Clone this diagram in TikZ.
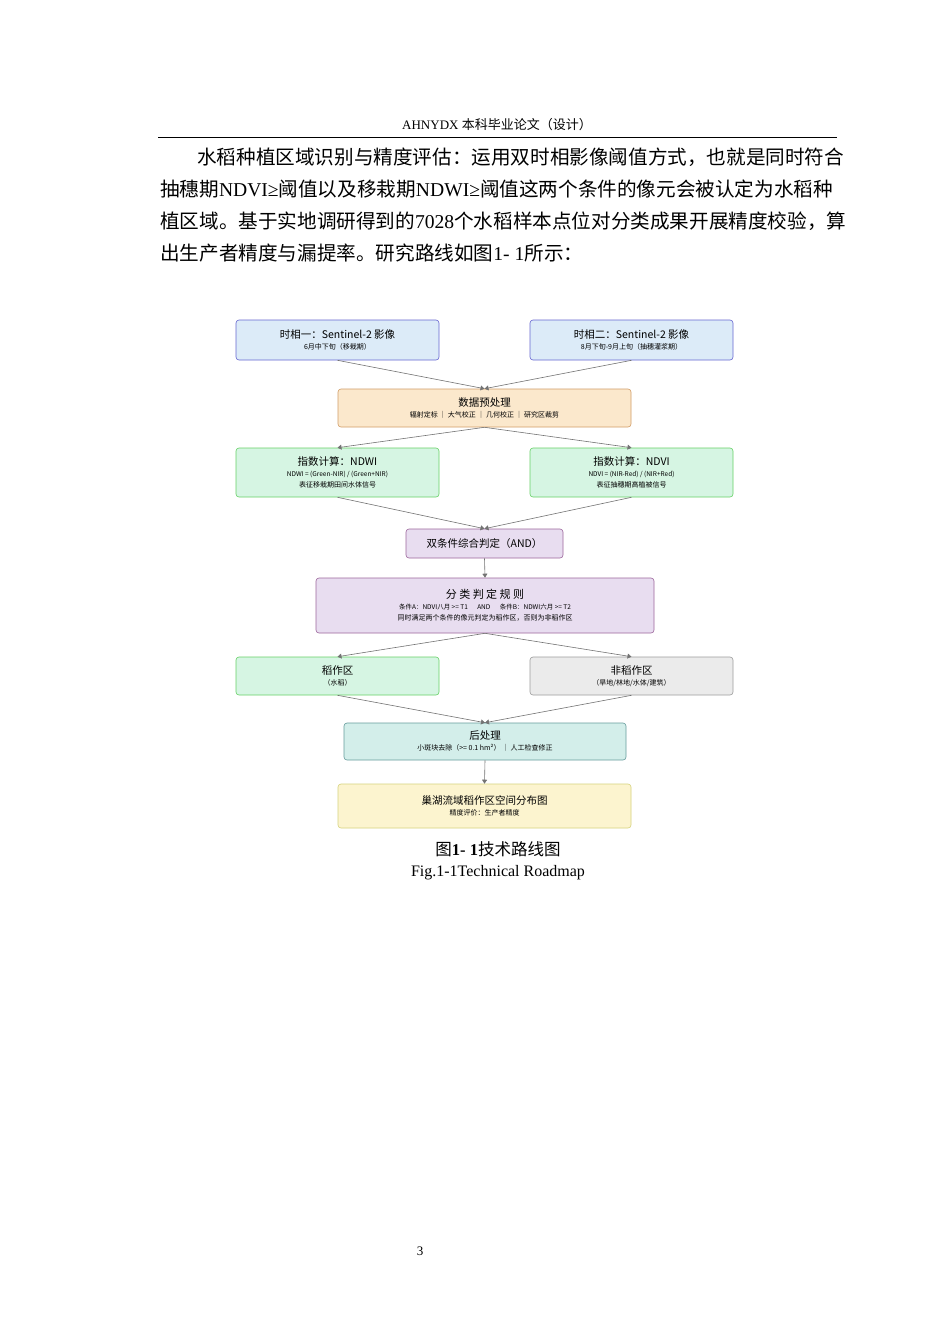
\documentclass[tikz,border=0pt]{standalone}
\usepackage{fontspec}
\setmainfont{Liberation Serif}
\newfontfamily\zh{Noto Sans CJK SC}
\usetikzlibrary{arrows.meta}
\begin{document}
\begin{tikzpicture}[x=1pt,y=-1pt,
  bx/.style={draw=#1!70!black!60, rounded corners=3pt, line width=0.6pt, inner sep=0pt},
  con/.style={draw=black!55, line width=0.6pt, -{Triangle[width=5pt,length=4pt]}},
  ptxt/.style={anchor=west, inner sep=0pt, font=\fontsize{19.6}{22}\selectfont}]
\useasboundingbox (0,0) rectangle (950,1344);
\fill[white] (0,0) rectangle (950,1344);
% header
\node[inner sep=0pt, font=\fontsize{13}{15}\selectfont] (hd) at (497,125) {AHNYDX {\zh 本科毕业论文（设计）}};
\draw[line width=0.8pt] (158,137.5) -- (837,137.5);
\node[ptxt] (p1) at (197,157) {{\zh 水稻种植区域识别与精度评估：运用双时相影像阈值方式，也就是同时符合}};
\node[ptxt] (p2) at (160,189) {{\zh 抽穗期}NDVI≥{\zh 阈值以及移栽期}NDWI≥{\zh 阈值这两个条件的像元会被认定为水稻种}};
\node[ptxt] (p3) at (160,221) {{\zh 植区域。基于实地调研得到的}7028{\zh 个水稻样本点位对分类成果开展精度校验，算}};
\node[ptxt] (p4) at (160,253) {{\zh 出生产者精度与漏提率。研究路线如图}1- 1{\zh 所示：}};
% boxes
\newcommand{\bbox}[8]{%
 \node[bx=#6, fill=#7, minimum width=#3-#2, minimum height=#5-#4] (#1) at ({(#2+#3)/2},{(#4+#5)/2}) {};
 \node[align=center, inner sep=0pt] at (#1) {#8};}
\definecolor{cb}{HTML}{DCEBF8}\definecolor{co}{HTML}{FBE8CC}\definecolor{cg}{HTML}{D6F5E3}
\definecolor{cp}{HTML}{E8DDF0}\definecolor{cgr}{HTML}{EBEBEB}\definecolor{ct}{HTML}{D3EEEA}\definecolor{cy}{HTML}{FCF4CF}
\bbox{b1}{236}{439}{320}{360}{blue}{cb}{{\zh\fontsize{10.5}{13}\selectfont 时相一：Sentinel-2 影像}\\[-1pt]{\zh\fontsize{7}{8}\selectfont 6月中下旬（移栽期）}}
\bbox{b2}{530}{733}{320}{360}{blue}{cb}{{\zh\fontsize{10.5}{13}\selectfont 时相二：Sentinel-2 影像}\\[-1pt]{\zh\fontsize{7}{8}\selectfont 8月下旬-9月上旬（抽穗灌浆期）}}
\bbox{pre}{338}{631}{389}{427}{orange}{co}{{\zh\fontsize{10.5}{13}\selectfont 数据预处理}\\[-1pt]{\zh\fontsize{7}{8}\selectfont 辐射定标 ｜ 大气校正 ｜ 几何校正 ｜ 研究区裁剪}}
\bbox{ndwi}{236}{439}{448}{497}{green}{cg}{{\zh\fontsize{10.5}{13}\selectfont 指数计算：NDWI}\\[-1pt]{\zh\fontsize{6.5}{8}\selectfont NDWI = (Green-NIR) / (Green+NIR)}\\[-1pt]{\zh\fontsize{7}{8}\selectfont 表征移栽期田间水体信号}}
\bbox{ndvi}{530}{733}{448}{497}{green}{cg}{{\zh\fontsize{10.5}{13}\selectfont 指数计算：NDVI}\\[-1pt]{\zh\fontsize{6.5}{8}\selectfont NDVI = (NIR-Red) / (NIR+Red)}\\[-1pt]{\zh\fontsize{7}{8}\selectfont 表征抽穗期高植被信号}}
\bbox{and}{406}{563}{529}{558}{violet}{cp}{{\zh\fontsize{10.5}{13}\selectfont 双条件综合判定（AND）}}
\bbox{rule}{316}{654}{578}{633}{violet}{cp}{{\zh\fontsize{11}{13}\selectfont 分\ 类\ 判\ 定\ 规\ 则}\\[-1pt]{\zh\fontsize{6.5}{8}\selectfont 条件A：NDVI八月 >= T1 \quad\ AND \quad\ 条件B：NDWI六月 >= T2}\\[-1pt]{\zh\fontsize{7}{8}\selectfont 同时满足两个条件的像元判定为稻作区，否则为非稻作区}}
\bbox{rice}{236}{439}{657}{695}{green}{cg}{{\zh\fontsize{10.5}{13}\selectfont 稻作区}\\[-1pt]{\zh\fontsize{7}{8}\selectfont （水稻）}}
\bbox{non}{530}{733}{657}{695}{gray}{cgr}{{\zh\fontsize{10.5}{13}\selectfont 非稻作区}\\[-1pt]{\zh\fontsize{7}{8}\selectfont （旱地/林地/水体/建筑）}}
\bbox{post}{344}{626}{723}{760}{teal}{ct}{{\zh\fontsize{10.5}{13}\selectfont 后处理}\\[-1pt]{\zh\fontsize{7}{8}\selectfont 小斑块去除（>= 0.1 hm²） ｜ 人工检查修正}}
\bbox{fin}{338}{631}{784}{828}{yellow}{cy}{{\zh\fontsize{10.5}{13}\selectfont 巢湖流域稻作区空间分布图}\\[-1pt]{\zh\fontsize{7}{8}\selectfont 精度评价：生产者精度}}
% connectors
\draw[con] (b1.south) -- (pre.north);
\draw[con] (b2.south) -- (pre.north);
\draw[con] (pre.south) -- (ndwi.north);
\draw[con] (pre.south) -- (ndvi.north);
\draw[con] (ndwi.south) -- (and.north);
\draw[con] (ndvi.south) -- (and.north);
\draw[con] (and.south) -- (rule.north);
\draw[con] (rule.south) -- (rice.north);
\draw[con] (rule.south) -- (non.north);
\draw[con] (rice.south) -- (post.north);
\draw[con] (non.south) -- (post.north);
\draw[con] (post.south) -- (fin.north);
% captions
\node[inner sep=0pt, font=\fontsize{16.5}{18}\selectfont] (cap1) at (498,849) {{\zh 图}\textbf{1-\ 1}{\zh 技术路线图}};
\node[inner sep=0pt, font=\fontsize{16}{18}\selectfont] (cap2) at (498,873) {Fig.1-1Technical Roadmap};
\node[inner sep=0pt, font=\fontsize{13}{15}\selectfont] (pg) at (420,1251) {3};
\end{tikzpicture}
\end{document}
